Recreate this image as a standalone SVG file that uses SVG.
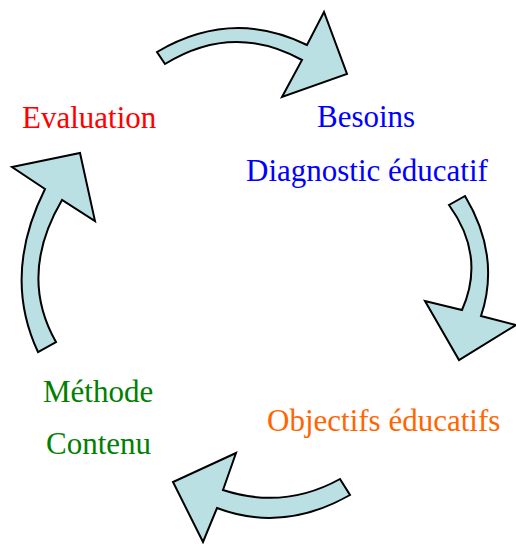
<svg xmlns="http://www.w3.org/2000/svg" width="516" height="544" viewBox="0 0 516 544">
<style>
.arr{fill:#BAE0E3;stroke:#000;stroke-width:2;stroke-linejoin:miter}
.t{font-family:"Liberation Serif","Times New Roman",serif;font-size:31px}
</style>
<rect width="516" height="544" fill="#fff"/>
<g id="connectors">
<path class="arr" d="M157,52 Q232,8 307,45 L324,12 L347,74 L282,97 L302,60 Q233,22 165,64 Z"/>
<path class="arr" d="M465,196 Q501,256 481,316 L516,325 L459,360 L425,301 L462,310 Q486,256 449,205 Z"/>
<path class="arr" d="M340,479 Q284,510 223,490 L236,453 L173,482 L203,542 L217,508 Q283,533 350,495 Z"/>
<path class="arr" d="M38,352 Q2,275 45,189 L12,167 L80,153 L95,221 L62,200 Q18,275 56,342 Z"/>
</g>
<g id="evaluation"><text class="t" x="22" y="128" fill="#FF0000">Evaluation</text></g>
<g id="besoins"><text class="t" x="317" y="127" fill="#0000FF">Besoins</text><text class="t" x="246" y="181" fill="#0000FF">Diagnostic éducatif</text></g>
<g id="objectifs"><text class="t" x="267" y="431" fill="#FF6600">Objectifs éducatifs</text></g>
<g id="methode"><text class="t" x="43" y="402" fill="#008000">Méthode</text><text class="t" x="46" y="454" fill="#008000">Contenu</text></g>
</svg>
